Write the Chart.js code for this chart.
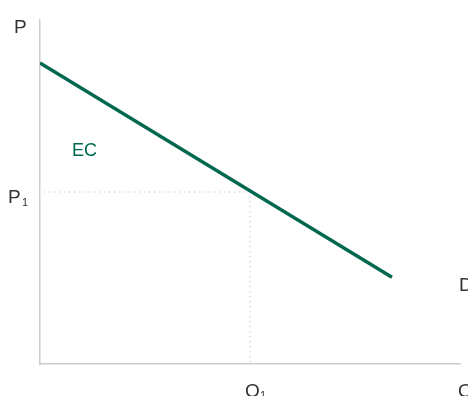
<!DOCTYPE html>
<html><head><meta charset="utf-8">
<script src="https://cdn.jsdelivr.net/npm/chart.js@4"></script>
<style>html,body{margin:0;padding:0;background:#fff}#wrap{width:468px;height:396px}</style>
</head><body><div id="wrap"><canvas id="c" width="468" height="396"></canvas></div>
<script>
const demandX = [0, 8.38];
const demandY = [8.75, 2.52];
const p1 = 5;
const q1 = 5;
const labels = {price: "P", quantity: "Q", demand: "D", surplus: "EC", p1: ["P", "1"], q1: ["Q", "1"]};

const green = '#00684f';
const textCol = '#333333';

const labelPlugin = {
  id: 'labels',
  afterDraw(chart) {
    const ctx = chart.ctx, xs = chart.scales.x, ys = chart.scales.y;
    ctx.save();
    ctx.textBaseline = 'alphabetic';
    ctx.font = '19px "Liberation Sans", Arial, sans-serif';
    ctx.fillStyle = textCol;
    ctx.textAlign = 'left';
    ctx.fillText(labels.price, xs.left - 26, ys.top + 13);
    // P1
    const yP = ys.getPixelForValue(p1);
    ctx.fillText(labels.p1[0], xs.left - 32, yP + 11);
    ctx.font = '11px "Liberation Sans", Arial, sans-serif';
    ctx.fillText(labels.p1[1], xs.left - 18, yP + 14);
    // Q1
    const xQ = xs.getPixelForValue(q1);
    ctx.font = '19px "Liberation Sans", Arial, sans-serif';
    ctx.fillText(labels.q1[0], xQ - 5, ys.bottom + 33);
    ctx.font = '11px "Liberation Sans", Arial, sans-serif';
    ctx.fillText(labels.q1[1], xQ + 10, ys.bottom + 35);
    // Q
    ctx.font = '19px "Liberation Sans", Arial, sans-serif';
    ctx.fillText(labels.quantity, xs.right - 2, ys.bottom + 33);
    // D
    ctx.fillText(labels.demand, xs.right - 1, ys.getPixelForValue(demandY[1]) + 14);
    // EC
    ctx.fillStyle = green;
    ctx.font = '18px "Liberation Sans", Arial, sans-serif';
    ctx.fillText(labels.surplus, xs.left + 32, ys.getPixelForValue(6.05));
    ctx.restore();
  }
};

new Chart(document.getElementById('c'), {
  type: 'scatter',
  data: {
    datasets: [
      {
        data: demandX.map((x, i) => ({x, y: demandY[i]})),
        showLine: true, borderColor: green, borderWidth: 3.4, pointRadius: 0, borderCapStyle: 'butt'
      },
      {
        data: [{x: 0.1, y: p1}, {x: q1, y: p1}, {x: q1, y: 0.05}],
        showLine: true, borderColor: '#b4b4b4', borderWidth: 1, borderDash: [1, 4], pointRadius: 0
      }
    ]
  },
  options: {
    responsive: false, animation: false,
    layout: {padding: {left: 40, right: 8, top: 20, bottom: 32}},
    plugins: {legend: {display: false}, tooltip: {enabled: false}},
    scales: {
      x: {min: 0, max: 10, ticks: {display: false}, grid: {display: false, drawTicks: false},
          border: {display: true, color: '#cccccc', width: 1.5}},
      y: {min: 0, max: 10, ticks: {display: false}, grid: {display: false, drawTicks: false},
          border: {display: true, color: '#cccccc', width: 1.5}}
    }
  },
  plugins: [labelPlugin]
});
</script></body></html>
